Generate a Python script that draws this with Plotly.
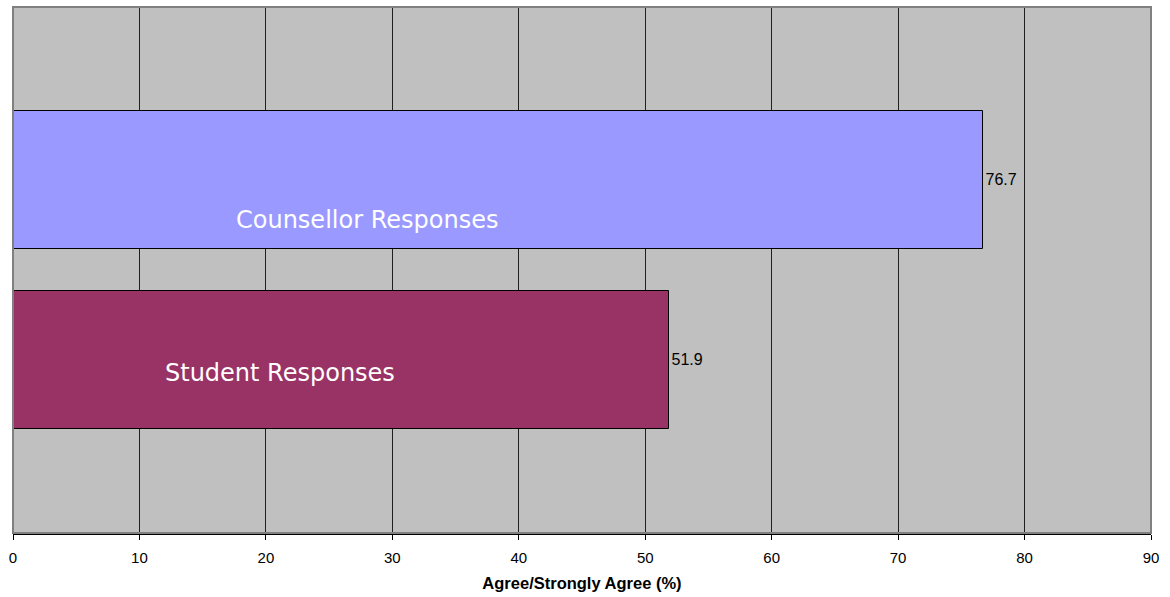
import plotly.graph_objects as go

# Survey results: share who agree / strongly agree
groups = ["Student Responses", "Counsellor Responses"]
values = [51.9, 76.7]
bar_colors = ["#993366", "#9999FF"]
x_ticks = [0, 10, 20, 30, 40, 50, 60, 70, 80, 90]
positions = [0, 1]

fig = go.Figure()
fig.add_trace(go.Bar(
    x=values,
    y=positions,
    orientation="h",
    width=0.767,
    marker=dict(color=bar_colors, line=dict(color="black", width=1)),
    text=[f"{v:.1f}" for v in values],
    textposition="outside",
    textfont=dict(family="Liberation Sans, Arial", size=16, color="black"),
    cliponaxis=False,
    hoverinfo="skip",
))

# Group names written inside the bars
label_pos = [(21.1, -0.07), (28.0, 0.78)]
for name, (lx, ly) in zip(groups, label_pos):
    fig.add_annotation(
        x=lx, y=ly, xref="x", yref="y",
        text=name, showarrow=False,
        font=dict(family="DejaVu Sans, Verdana", size=24, color="white"),
        xanchor="center", yanchor="middle",
    )

# Plot-area frame
fig.add_shape(type="rect", xref="paper", yref="paper", x0=0, x1=1, y0=0, y1=1,
              line=dict(color="#808080", width=2), layer="above")

fig.update_layout(
    width=1170, height=597,
    margin=dict(l=13, r=19, t=7, b=64),
    paper_bgcolor="white",
    plot_bgcolor="#C0C0C0",
    showlegend=False,
    bargap=0,
    xaxis=dict(
        range=[0, 90],
        tickvals=x_ticks,
        ticktext=[str(t) for t in x_ticks],
        showgrid=True, gridcolor="#202020", gridwidth=1,
        zeroline=False,
        showline=True, linecolor="black", linewidth=2,
        ticks="outside", ticklen=5, tickcolor="black", tickwidth=1,
        ticklabelstandoff=5,
        tickfont=dict(family="Liberation Sans, Arial", size=15, color="black"),
        title=dict(text="<b>Agree/Strongly Agree (%)</b>",
                   font=dict(family="Liberation Sans, Arial", size=16.5, color="black"),
                   standoff=12),
    ),
    yaxis=dict(
        range=[-0.961, 1.961],
        showgrid=False, zeroline=False, showticklabels=False,
        showline=False, ticks="",
    ),
)

fig.write_html("out.html")
